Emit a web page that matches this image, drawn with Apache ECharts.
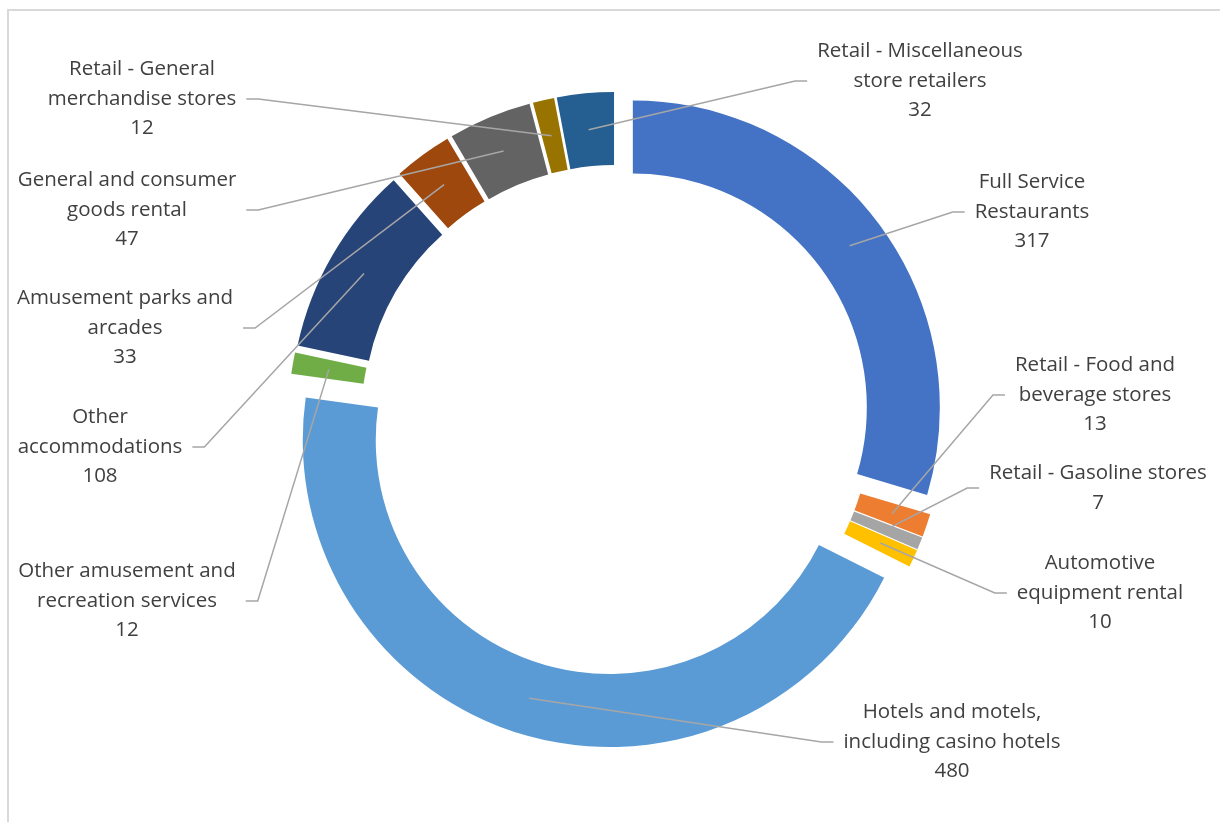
<!DOCTYPE html>
<html>
<head>
<meta charset="utf-8">
<script src="https://cdn.jsdelivr.net/npm/echarts@6/dist/echarts.min.js"></script>
<style>
html, body { margin: 0; padding: 0; background: #fff; }
#chartBox { width: 1220px; height: 822px; }
</style>
</head>
<body>
<div id="chartBox"></div>
<script>
// slices, clockwise from 12 o'clock
const categories = [
  'Full Service\nRestaurants',
  'Retail - Food and\nbeverage stores',
  'Retail - Gasoline stores',
  'Automotive\nequipment rental',
  'Hotels and motels,\nincluding casino hotels',
  'Other amusement and\nrecreation services',
  'Other\naccommodations',
  'Amusement parks and\narcades',
  'General and consumer\ngoods rental',
  'Retail - General\nmerchandise stores',
  'Retail - Miscellaneous\nstore retailers'
]
const counts = [317, 13, 7, 10, 480, 12, 108, 33, 47, 12, 32]
const colors = ['#4472C4', '#ED7D31', '#A5A5A5', '#FFC000', '#5B9BD5', '#70AD47',
  '#264478', '#9E480E', '#636363', '#997300', '#255E91']

// where each label block is centred, and which side the leader line joins
const labelSpots = [
  [1032, 212, 'left'], [1095, 395, 'left'], [1098, 488, 'left'], [1100, 593, 'left'],
  [952, 742, 'left'], [127, 601, 'right'], [100, 447, 'right'], [125, 328, 'right'],
  [127, 210, 'right'], [142, 99, 'right'], [920, 81, 'left']
]

const explode = 21
const pieCenter = [616, 420]
const pieRadius = [234, 307]
let myChart = echarts.init(document.getElementById('chartBox'))

// leader starts in the middle of the (exploded) ring, at the slice's mid angle
function leaderStart(idx) {
  let layout = myChart.getModel().getSeriesByIndex(1).getData().getItemLayout(idx)
  let mid = (layout.startAngle + layout.endAngle) / 2
  let r = (layout.r + layout.r0) / 2 + explode
  return [layout.cx + r * Math.cos(mid), layout.cy + r * Math.sin(mid)]
}

myChart.setOption({
  animation: false,
  graphic: [{
    type: 'rect',
    shape: { x: 8, y: 10, width: 1400, height: 1000 },
    style: { fill: null, stroke: '#d9d9d9', lineWidth: 2 },
    silent: true
  }],
  series: [
    {
      // exploded ring
      type: 'pie',
      center: pieCenter,
      radius: pieRadius,
      startAngle: 90,
      selectedMode: 'multiple',
      selectedOffset: explode,
      emphasis: { disabled: true },
      select: { itemStyle: { borderWidth: 0 } },
      label: { show: false },
      labelLine: { show: false },
      data: categories.map((name, i) => ({
        name: name,
        value: counts[i],
        selected: true,
        itemStyle: { color: colors[i] }
      }))
    },
    {
      // same ring, invisible, only carries the labels
      type: 'pie',
      center: pieCenter,
      radius: pieRadius,
      startAngle: 90,
      silent: true,
      z: 3,
      avoidLabelOverlap: false,
      emphasis: { disabled: true },
      itemStyle: { color: 'rgba(0,0,0,0)' },
      label: {
        show: true,
        formatter: p => p.name + '\n' + p.value,
        fontFamily: '"Open Sans", sans-serif',
        fontSize: 20.5,
        lineHeight: 29.5,
        color: '#404040',
        align: 'center'
      },
      labelLine: {
        show: true,
        lineStyle: { color: '#a6a6a6', width: 1.5 }
      },
      labelLayout: params => {
        let spot = labelSpots[params.dataIndex]
        let w = params.labelRect.width
        let endX = spot[2] === 'left' ? spot[0] - w / 2 - 10 : spot[0] + w / 2 + 10
        let kneeX = spot[2] === 'left' ? endX - 12 : endX + 12
        return {
          x: spot[0],
          y: spot[1],
          align: 'center',
          verticalAlign: 'middle',
          labelLinePoints: [leaderStart(params.dataIndex), [kneeX, spot[1]], [endX, spot[1]]]
        }
      },
      data: categories.map((name, i) => ({ name: name, value: counts[i] }))
    }
  ]
})
</script>
</body>
</html>
